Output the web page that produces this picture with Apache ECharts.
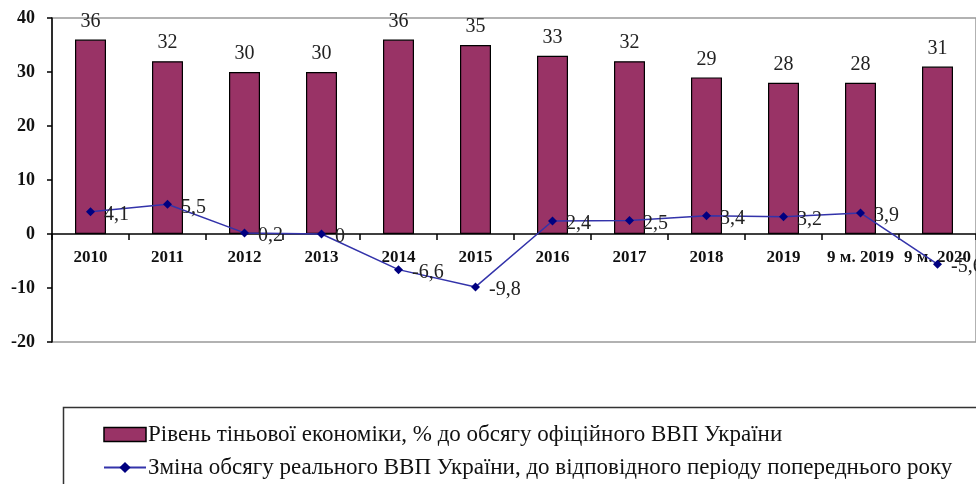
<!DOCTYPE html>
<html><head><meta charset="utf-8">
<script src="https://cdn.jsdelivr.net/npm/echarts@6/dist/echarts.min.js"></script>
<style>html,body{margin:0;padding:0;background:#fff}#c{width:976px;height:484px}</style>
</head><body><div id="c"></div>
<script>
var categories = ['2010','2011','2012','2013','2014','2015','2016','2017','2018','2019','9 м. 2019','9 м. 2020'];
var shadowEconomy = [36,32,30,30,36,35,33,32,29,28,28,31];
var gdpChange = [4.1,5.5,0.2,0,-6.6,-9.8,2.4,2.5,3.4,3.2,3.9,-5.6];
var yTicks = [-20,-10,0,10,20,30,40];
var barName = 'Рівень тіньової економіки, % до обсягу офіційного ВВП України';
var lineName = 'Зміна обсягу реального ВВП України, до відповідного періоду попереднього року';

var chart = echarts.init(document.getElementById('c'), null, {renderer:'canvas'});
var serif = 'Liberation Serif';
chart.setOption({
  animation:false,
  grid:{left:52, top:18, bottom:142, right:-6, show:true, borderColor:'#999', borderWidth:1.5},
  legend:{
    orient:'vertical', left:98, top:418, itemGap:10, itemWidth:42, itemHeight:14,
    textStyle:{fontFamily:serif, fontSize:23, color:'#111', padding:[0,0,0,-3]},
    data:[
      {name:barName, icon:'rect', itemStyle:{color:'#993366', borderColor:'#000', borderWidth:1.5}},
      {name:lineName}
    ]
  },
  graphic:[{type:'rect', shape:{x:63.5, y:407.5, width:1000, height:200}, style:{fill:'none', stroke:'#333', lineWidth:1.5}, z:-1}],
  xAxis:{
    type:'category', data:categories,
    axisLine:{onZero:true, lineStyle:{color:'#000', width:1.5}},
    axisTick:{show:true, length:6, lineStyle:{color:'#000', width:1.5}},
    axisLabel:{fontFamily:serif, fontWeight:'bold', fontSize:17, color:'#111', margin:15, interval:0},
    splitLine:{show:false}
  },
  yAxis:{
    type:'value', min:-20, max:40, interval:10,
    axisLine:{show:true, onZero:false, lineStyle:{color:'#000', width:1.5}},
    axisTick:{show:true, length:5, lineStyle:{color:'#000', width:1.5}},
    axisLabel:{fontFamily:serif, fontWeight:'bold', fontSize:18, color:'#111', margin:17,
      formatter:function(v){return yTicks.indexOf(v)>=0?String(v):'';}},
    splitLine:{show:false}
  },
  series:[{
    name:barName, type:'bar', data:shadowEconomy, barWidth:31,
    itemStyle:{color:'#993366', borderColor:'#000', borderWidth:1.2},
    label:{show:true, position:'top', distance:8, fontFamily:serif, fontSize:20, color:'#222'}
  },{
    name:lineName, type:'line', data:gdpChange,
    symbol:'diamond', symbolSize:9, color:'#000080',
    lineStyle:{color:'#3333aa', width:1.5},
    itemStyle:{color:'#000080'},
    label:{show:true, position:'right', distance:9, offset:[0,3], fontFamily:serif, fontSize:20, color:'#222',
      formatter:function(p){return String(p.value).replace('.',',');}}
  }]
});
var y0 = chart.convertToPixel({yAxisIndex:0}, 0);
var yb = chart.convertToPixel({yAxisIndex:0}, -20);
chart.setOption({xAxis:{axisLabel:{margin:15 - (yb - y0)}}});
</script></body></html>
